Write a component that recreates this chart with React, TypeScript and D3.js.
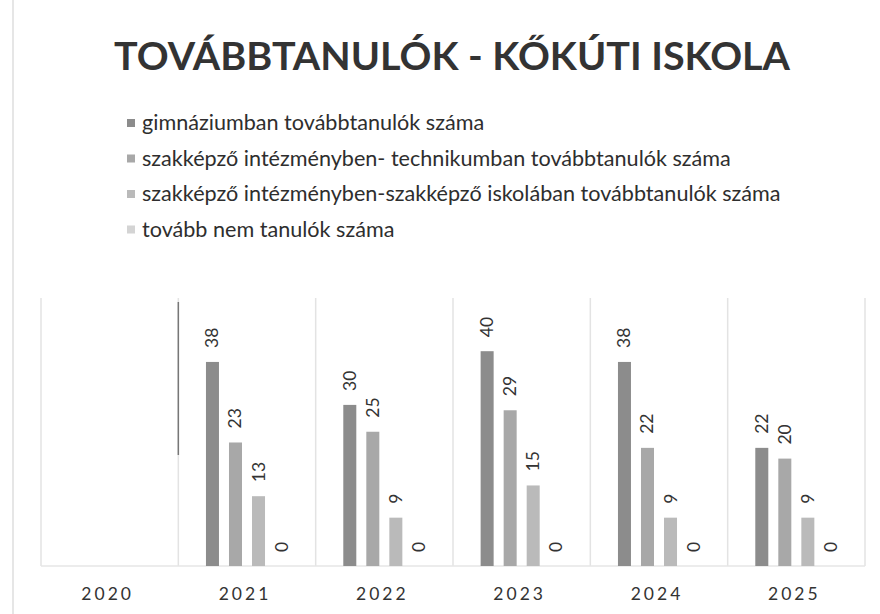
import React from "react";
import * as d3 from "d3";

const categories = ["2020", "2021", "2022", "2023", "2024", "2025"];
const seriesNames = [
  "gimnáziumban továbbtanulók száma",
  "szakképző intézményben- technikumban továbbtanulók száma",
  "szakképző intézményben-szakképző iskolában továbbtanulók száma",
  "tovább nem tanulók száma",
];
const gimnazium: (number | null)[] = [null, 38, 30, 40, 38, 22];
const technikum: (number | null)[] = [null, 23, 25, 29, 22, 20];
const szakkepzo: (number | null)[] = [null, 13, 9, 15, 9, 9];
const nemTanul: (number | null)[] = [null, 0, 0, 0, 0, 0];
const seriesValues = [gimnazium, technikum, szakkepzo, nemTanul];
const seriesColors = ["#8c8c8c", "#a8a8a8", "#bababa", "#d4d4d4"];
const title = "TOVÁBBTANULÓK - KŐKÚTI ISKOLA";

const W = 880;
const H = 614;
const baseY = 566;

export default function App() {
  const x0 = d3.scaleBand<string>().domain(categories).range([41, 865]);
  const x1 = d3
    .scaleBand<number>()
    .domain(d3.range(seriesNames.length))
    .range([0, x0.bandwidth()])
    .paddingInner(0.435)
    .paddingOuter(1.2);
  const y = d3.scaleLinear().domain([0, 45]).range([baseY, baseY - 45 * 5.37]);
  const font = "Lato, 'Open Sans', sans-serif";

  return (
    <svg
      width={W}
      height={H}
      style={{ position: "absolute", left: 0, top: 0, background: "#fff" }}
    >
      <rect x={0} y={0} width={W} height={H} fill="#fff" />
      <line x1={13} x2={13} y1={0} y2={H} stroke="#e6e6e6" strokeWidth={2} />
      <text
        x={452}
        y={70}
        textAnchor="middle"
        fontFamily={font}
        fontWeight={700}
        fontSize={38}
        fill="#333"
        textLength={676}
        lengthAdjust="spacingAndGlyphs"
      >
        {title}
      </text>
      {seriesNames.map((s, i) => (
        <g key={s} transform={`translate(0, ${130 + i * 35.5})`}>
          <rect x={127} y={-11} width={8} height={8} fill={seriesColors[i]} />
          <text
            x={142}
            y={0}
            fontFamily={font}
            fontSize={21.6}
            fill="#2e2e2e"
          >
            {s}
          </text>
        </g>
      ))}
      {/* gridlines */}
      {categories.map((c) => (
        <line
          key={"g" + c}
          x1={x0(c)!}
          x2={x0(c)!}
          y1={298}
          y2={baseY}
          stroke="#e3e3e3"
          strokeWidth={1.5}
        />
      ))}
      <line x1={865} x2={865} y1={298} y2={baseY} stroke="#e3e3e3" strokeWidth={1.5} />
      <line x1={41} x2={865} y1={baseY} y2={baseY} stroke="#e6e6e6" strokeWidth={1.5} />
      <line
        x1={x0("2021")!}
        x2={x0("2021")!}
        y1={302}
        y2={455}
        stroke="#777"
        strokeWidth={1.5}
      />
      {categories.map((c, ci) =>
        seriesValues.map((vals, si) => {
          const v = vals[ci];
          if (v === null) return null;
          const bx = x0(c)! + x1(si)!;
          const bw = x1.bandwidth();
          const top = y(v);
          const lx = bx + bw / 2;
          const ly = top - 14;
          return (
            <g key={c + si}>
              {v > 0 && (
                <rect x={bx} y={top} width={bw} height={baseY - top} fill={seriesColors[si]} />
              )}
              <text
                transform={`translate(${lx + 6}, ${ly}) rotate(-90)`}
                fontFamily={font}
                fontSize={17.5}
                fill="#333"
              >
                {v}
              </text>
            </g>
          );
        })
      )}
      {categories.map((c) => (
        <text
          key={"l" + c}
          x={x0(c)! + x0.bandwidth() / 2 - 2}
          y={600}
          textAnchor="middle"
          fontFamily={font}
          fontSize={17.5}
          letterSpacing={3}
          fill="#333"
        >
          {c}
        </text>
      ))}
    </svg>
  );
}
